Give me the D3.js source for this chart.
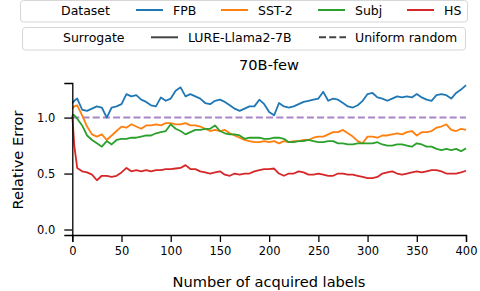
<!DOCTYPE html>
<html>
<head>
<meta charset="utf-8">
<script src="https://cdn.jsdelivr.net/npm/d3@7"></script>
<style>
    body { margin: 0; background: #fff; }
    svg { display: block; font-family: "DejaVu Sans", sans-serif; }
</style>
</head>
<body>
<div id="chart"></div>
<script>
    // number of acquired labels (shared x for every series)
    const labels = [0, 2, 5, 10, 15, 20, 25, 30, 35, 40, 45, 50, 55, 60, 65, 70, 75, 80, 85, 90, 95,
        100, 105, 110, 115, 120, 125, 130, 135, 140, 145, 150, 155, 160, 165, 170, 175, 180, 185, 190, 195,
        200, 205, 210, 215, 220, 225, 230, 235, 240, 245, 250, 255, 260, 265, 270, 275, 280, 285, 290, 295,
        300, 305, 310, 315, 320, 325, 330, 335, 340, 345, 350, 355, 360, 365, 370, 375, 380, 385, 390, 395, 400];

    const fpb = [1.13, 1.15, 1.17, 1.07, 1.06, 1.08, 1.10, 1.09, 1.00, 1.09, 1.10, 1.12, 1.21, 1.19, 1.20, 1.16, 1.14, 1.11, 1.10, 1.18, 1.15,
        1.17, 1.24, 1.27, 1.19, 1.21, 1.19, 1.17, 1.13, 1.12, 1.15, 1.16, 1.14, 1.11, 1.08, 1.06, 1.08, 1.10, 1.10, 1.16, 1.12,
        1.05, 1.02, 1.13, 1.10, 1.09, 1.10, 1.12, 1.14, 1.15, 1.16, 1.17, 1.23, 1.15, 1.17, 1.16, 1.13, 1.10, 1.09, 1.11, 1.15,
        1.21, 1.22, 1.18, 1.17, 1.15, 1.17, 1.19, 1.18, 1.19, 1.18, 1.21, 1.18, 1.16, 1.15, 1.20, 1.21, 1.20, 1.17, 1.22, 1.25, 1.29];

    const sst2 = [1.08, 1.10, 1.11, 1.02, 0.92, 0.85, 0.83, 0.85, 0.80, 0.84, 0.88, 0.92, 0.91, 0.94, 0.92, 0.90, 0.93, 0.93, 0.94, 0.93, 0.95,
        0.95, 0.94, 0.94, 0.95, 0.93, 0.93, 0.92, 0.90, 0.88, 0.89, 0.88, 0.89, 0.86, 0.84, 0.82, 0.80, 0.79, 0.78, 0.78, 0.79,
        0.78, 0.79, 0.77, 0.79, 0.78, 0.79, 0.79, 0.80, 0.80, 0.82, 0.83, 0.83, 0.85, 0.87, 0.87, 0.89, 0.86, 0.83, 0.79, 0.77,
        0.83, 0.83, 0.82, 0.84, 0.84, 0.85, 0.86, 0.85, 0.87, 0.88, 0.84, 0.87, 0.87, 0.88, 0.91, 0.92, 0.94, 0.89, 0.88, 0.90, 0.89];

    const subj = [1.03, 1.02, 0.99, 0.93, 0.84, 0.80, 0.77, 0.74, 0.79, 0.76, 0.80, 0.81, 0.81, 0.82, 0.82, 0.83, 0.84, 0.84, 0.86, 0.87, 0.88,
        0.94, 0.90, 0.88, 0.85, 0.87, 0.89, 0.89, 0.90, 0.90, 0.93, 0.88, 0.86, 0.85, 0.85, 0.84, 0.81, 0.82, 0.82, 0.82, 0.81,
        0.81, 0.82, 0.82, 0.81, 0.78, 0.78, 0.79, 0.79, 0.80, 0.79, 0.78, 0.78, 0.79, 0.79, 0.77, 0.77, 0.76, 0.76, 0.77, 0.77,
        0.77, 0.77, 0.78, 0.76, 0.75, 0.75, 0.76, 0.76, 0.75, 0.74, 0.77, 0.76, 0.74, 0.74, 0.72, 0.71, 0.72, 0.71, 0.72, 0.70, 0.725];

    const hs = [1.02, 0.75, 0.55, 0.52, 0.51, 0.49, 0.44, 0.48, 0.48, 0.47, 0.48, 0.51, 0.55, 0.52, 0.53, 0.52, 0.53, 0.52, 0.53, 0.53, 0.54,
        0.54, 0.545, 0.55, 0.575, 0.54, 0.54, 0.52, 0.51, 0.50, 0.51, 0.52, 0.49, 0.48, 0.50, 0.49, 0.50, 0.50, 0.52, 0.53, 0.54,
        0.54, 0.545, 0.50, 0.48, 0.50, 0.50, 0.52, 0.51, 0.49, 0.49, 0.50, 0.49, 0.48, 0.48, 0.50, 0.50, 0.49, 0.49, 0.48, 0.47,
        0.46, 0.46, 0.47, 0.50, 0.51, 0.52, 0.50, 0.49, 0.50, 0.51, 0.52, 0.51, 0.52, 0.53, 0.53, 0.52, 0.50, 0.50, 0.50, 0.51, 0.525];

    const uniformRandom = 1.0;

    const datasetNames = ["FPB", "SST-2", "Subj", "HS"];
    const datasetColors = ["#1f77b4", "#ff7f0e", "#2ca02c", "#d62728"];
    const xTicks = [0, 50, 100, 150, 200, 250, 300, 350, 400];
    const yTicks = [0.0, 0.5, 1.0];

    const width = 480, height = 291;
    const svg = d3.select("#chart").append("svg")
        .attr("width", width)
        .attr("height", height);

    const x = d3.scaleLinear().domain([0, 400]).range([72.3, 466]);
    const y = d3.scaleLinear().domain([-0.049, 1.309]).range([235, 83]);

    const series = [fpb, sst2, subj, hs].map((vals, i) => ({
        name: datasetNames[i],
        color: datasetColors[i],
        values: vals.map((v, j) => ({ n: labels[j], v: v }))
    }));

    const line = d3.line()
        .x(d => x(d.n))
        .y(d => y(d.v));

    // uniform random baseline
    svg.append("line")
        .attr("x1", x(0)).attr("x2", x(400))
        .attr("y1", y(uniformRandom)).attr("y2", y(uniformRandom))
        .attr("stroke", "#9467bd")
        .attr("stroke-opacity", 0.8)
        .attr("stroke-width", 2)
        .attr("stroke-dasharray", "7,3.2");

    svg.selectAll(".series")
        .data(series)
        .enter()
        .append("path")
            .attr("class", "series")
            .attr("fill", "none")
            .attr("stroke", d => d.color)
            .attr("stroke-width", 1.8)
            .attr("stroke-linejoin", "round")
            .attr("d", d => line(d.values));

    // x-axis
    svg.append("g")
        .attr("transform", `translate(0,235)`)
        .call(d3.axisBottom(x).tickValues(xTicks).tickSize(7).tickPadding(5).tickFormat(d3.format("d")))
        .call(g => g.select(".domain").attr("stroke", "#000").attr("stroke-width", 1.3))
        .call(g => g.selectAll(".tick line").attr("stroke", "#000").attr("stroke-width", 1.3))
        .call(g => g.selectAll("text").attr("font-size", 11.5).attr("fill", "#000").attr("font-family", "DejaVu Sans"));

    // y-axis
    svg.append("g")
        .attr("transform", `translate(72.3,0)`)
        .call(d3.axisLeft(y).tickValues(yTicks).tickSize(8).tickPadding(9).tickFormat(d3.format(".1f")))
        .call(g => g.select(".domain").attr("stroke", "#000").attr("stroke-width", 1.3))
        .call(g => g.selectAll(".tick line").attr("stroke", "#000").attr("stroke-width", 1.3))
        .call(g => g.selectAll("text").attr("font-size", 11.5).attr("fill", "#000").attr("font-family", "DejaVu Sans"));

    // labels and title
    svg.append("text")
        .attr("x", 269).attr("y", 287)
        .attr("text-anchor", "middle")
        .attr("font-size", 14.6)
        .text("Number of acquired labels");

    svg.append("text")
        .attr("transform", "translate(22.5,160) rotate(-90)")
        .attr("text-anchor", "middle")
        .attr("font-size", 14.6)
        .text("Relative Error");

    svg.append("text")
        .attr("x", 269).attr("y", 70)
        .attr("text-anchor", "middle")
        .attr("font-size", 14.6)
        .text("70B-few");

    // legend boxes
    const legendFrame = (x0, y0, w, h) => svg.append("rect")
        .attr("x", x0).attr("y", y0).attr("width", w).attr("height", h)
        .attr("rx", 3)
        .attr("fill", "#fff").attr("fill-opacity", 0.8)
        .attr("stroke", "#d6d6d6").attr("stroke-width", 1);

    legendFrame(20.5, 0.5, 447, 21.5);
    legendFrame(22.5, 27.5, 443, 22.5);

    // row 1: datasets
    svg.append("text").attr("x", 61).attr("y", 14.5).attr("font-size", 12.5).text("Dataset");
    const row1x = [136, 221, 318, 407];
    series.forEach((s, i) => {
        svg.append("line")
            .attr("x1", row1x[i]).attr("x2", row1x[i] + 27)
            .attr("y1", 10).attr("y2", 10)
            .attr("stroke", s.color).attr("stroke-width", 2);
        svg.append("text")
            .attr("x", row1x[i] + 37).attr("y", 14.5)
            .attr("font-size", 12.5)
            .text(s.name);
    });

    // row 2: surrogate
    svg.append("text").attr("x", 63).attr("y", 41.7).attr("font-size", 12.5).text("Surrogate");
    svg.append("line")
        .attr("x1", 151).attr("x2", 178).attr("y1", 37.3).attr("y2", 37.3)
        .attr("stroke", "#444").attr("stroke-width", 2);
    svg.append("text").attr("x", 188).attr("y", 41.7).attr("font-size", 12.5).text("LURE-Llama2-7B");
    svg.append("line")
        .attr("x1", 319).attr("x2", 346).attr("y1", 37.3).attr("y2", 37.3)
        .attr("stroke", "#444").attr("stroke-width", 2)
        .attr("stroke-dasharray", "7,3.2");
    svg.append("text").attr("x", 355).attr("y", 41.7).attr("font-size", 12.5).text("Uniform random");
</script>
</body>
</html>
